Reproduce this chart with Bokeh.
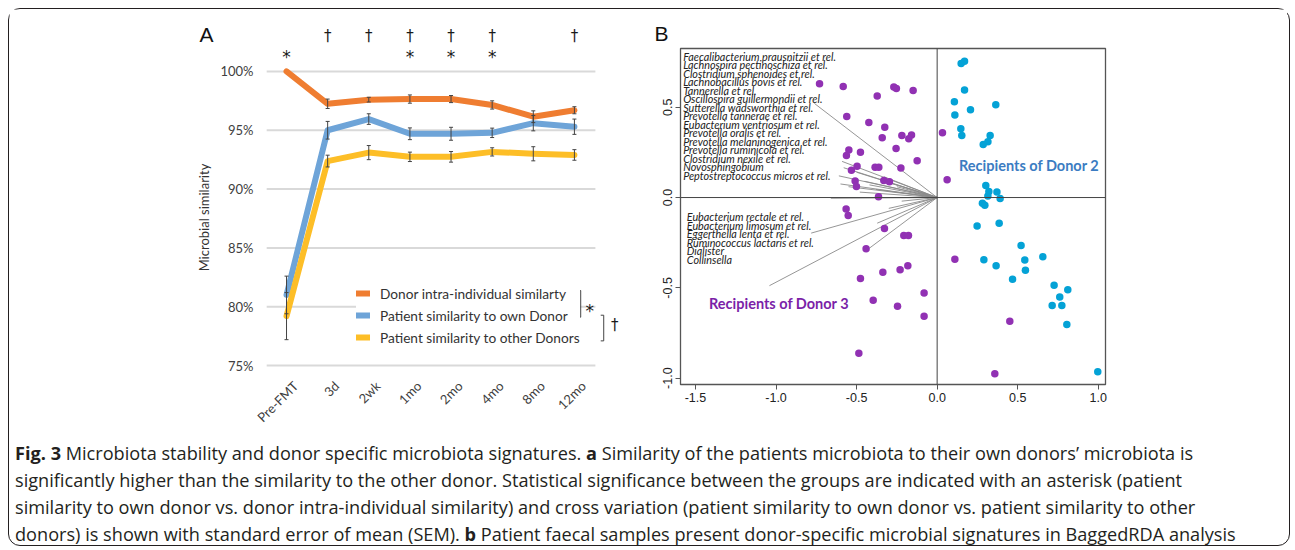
import math
from bokeh.plotting import figure
from bokeh.models import (ColumnDataSource, Range1d, FixedTicker, Label, Legend, LinearAxis,
                          LegendItem, Whisker, TeeHead, Span, Div, NumeralTickFormatter)
from bokeh.layouts import column, row
from bokeh.core.properties import value
from bokeh.embed import file_html
from bokeh.resources import INLINE

# ---------------- Panel A data ----------------
timepoints = ["Pre-FMT", "3d", "2wk", "1mo", "2mo", "4mo", "8mo", "12mo"]
donor_intra = [100.0, 97.25, 97.6, 97.65, 97.65, 97.15, 96.15, 96.7]
donor_intra_sem = [0.0, 0.4, 0.2, 0.35, 0.3, 0.35, 0.5, 0.3]
own_donor = [81.0, 95.0, 95.95, 94.7, 94.7, 94.78, 95.6, 95.3]
own_donor_sem = [1.6, 0.75, 0.45, 0.5, 0.55, 0.4, 0.65, 0.65]
other_donor = [79.2, 92.38, 93.1, 92.74, 92.74, 93.16, 93.0, 92.9]
other_donor_sem = [2.0, 0.5, 0.6, 0.4, 0.45, 0.35, 0.6, 0.45]
star_marks = ["*", "", "", "*", "*", "*", "", ""]
dagger_marks = ["", "†", "†", "†", "†", "†", "", "†"]
y_ticks = [75, 80, 85, 90, 95, 100]
series_names = ["Donor intra-individual similarty", "Patient similarity to own Donor",
                "Patient similarity to other Donors"]

# ---------------- Panel B data ----------------
donor3_x = [-0.73, -0.583, -0.269, -0.253, -0.149, -0.372, -0.561, -0.424, -0.325, -0.341,
            -0.219, -0.159, -0.176, -0.255, -0.548, -0.563, -0.476, -0.124, -0.497, -0.532,
            -0.385, -0.362, -0.225, -0.509, -0.501, -0.331, -0.296, 0.033, 0.062, -0.364,
            -0.565, -0.552, -0.327, -0.207, -0.178, -0.441, -0.476, -0.337, -0.23, -0.182,
            -0.081, -0.397, -0.246, -0.081, -0.486, 0.11, 0.451, 0.358]
donor3_y = [0.63, 0.615, 0.612, 0.604, 0.593, 0.562, 0.449, 0.416, 0.389, 0.331,
            0.343, 0.346, 0.326, 0.271, 0.263, 0.232, 0.25, 0.203, 0.173, 0.151,
            0.167, 0.167, 0.164, 0.092, 0.061, 0.094, 0.088, 0.359, 0.098, 0.004,
            -0.063, -0.1, -0.171, -0.21, -0.21, -0.284, -0.448, -0.414, -0.4, -0.377,
            -0.529, -0.569, -0.602, -0.657, -0.862, -0.341, -0.685, -0.976]
donor2_x = [0.149, 0.17, 0.17, 0.107, 0.207, 0.364, 0.11, 0.147, 0.153, 0.329, 0.315, 0.286,
            0.302, 0.321, 0.315, 0.371, 0.391, 0.281, 0.296, 0.248, 0.385, 0.521, 0.29,
            0.366, 0.544, 0.656, 0.548, 0.468, 0.726, 0.811, 0.761, 0.714, 0.774, 0.805, 0.997]
donor2_y = [0.742, 0.755, 0.595, 0.53, 0.486, 0.514, 0.457, 0.381, 0.343, 0.343, 0.309, 0.293,
            0.066, 0.033, 0.009, 0.031, -0.006, -0.031, -0.043, -0.157, -0.142, -0.265, -0.344,
            -0.378, -0.346, -0.328, -0.403, -0.453, -0.486, -0.51, -0.551, -0.597, -0.597,
            -0.703, -0.965]
taxa_upper = ["Faecalibacterium prausnitzii et rel.", "Lachnospira pectinoschiza et rel.",
              "Clostridium sphenoides et rel.", "Lachnobacillus bovis et rel.", "Tannerella et rel.",
              "Oscillospira guillermondii et rel.", "Sutterella wadsworthia et rel.",
              "Prevotella tannerae et rel.", "Eubacterium ventriosum et rel.", "Prevotella oralis et rel.",
              "Prevotella melaninogenica et rel.", "Prevotella ruminicola et rel.",
              "Clostridium nexile et rel.", "Novosphingobium", "Peptostreptococcus micros et rel."]
taxa_lower = ["Eubacterium rectale et rel.", "Eubacterium limosum et rel.", "Eggerthella lenta et rel.",
              "Ruminococcus lactaris et rel.", "Dialister", "Collinsella"]
vec_upper_x = [-0.762, -0.59, -0.58, -0.50, -0.61, -0.60, -0.55, -0.45, -0.42, -0.33, -0.31,
               -0.38, -0.25, -0.66, -0.48]
vec_upper_y = [0.521, 0.20, 0.165, 0.14, 0.12, 0.075, 0.06, 0.09, 0.07, 0.115, 0.085,
               0.045, 0.06, -0.004, 0.03]
vec_lower_x = [-0.782, -1.041, -0.372, -0.42, -0.22, -0.30]
vec_lower_y = [-0.197, -0.488, -0.142, -0.28, -0.02, -0.06]
b_xticks = [-1.5, -1.0, -0.5, 0.0, 0.5, 1.0]
b_yticks = [-1.0, -0.5, 0.0, 0.5]

caption_lines = [
    "<b>Fig. 3</b> Microbiota stability and donor specific microbiota signatures. <b>a</b> Similarity of the patients microbiota to their own donors’ microbiota is",
    "significantly higher than the similarity to the other donor. Statistical significance between the groups are indicated with an asterisk (patient",
    "similarity to own donor vs. donor intra-individual similarity) and cross variation (patient similarity to own donor vs. patient similarity to other",
    "donors) is shown with standard error of mean (SEM). <b>b</b> Patient faecal samples present donor-specific microbial signatures in BaggedRDA analysis",
]

FONT = "Lato"
SYM = "DejaVu Sans"
INK = "#1a1a1a"
C_OR, C_BL, C_YE = "#ef7d31", "#6ea4d8", "#fdbe27"

# ================= Panel A =================
n = len(timepoints)
xs = list(range(n))
pa = figure(width=627, height=424, x_range=Range1d(-0.487, 8.145), y_range=Range1d(74.664, 100.503),
            output_backend="svg", toolbar_location=None, title=None,
            min_border_left=257, min_border_right=15, min_border_top=56, min_border_bottom=52)
pa.frame_align = False
pa.outline_line_color = None
pa.grid.visible = False

# gridlines
pa.segment(x0=[-0.49] * len(y_ticks), x1=[n - 0.49] * len(y_ticks), y0=y_ticks, y1=y_ticks,
           line_color="#d9d9d9", line_width=2)

rends = []
for vals, col in [(donor_intra, C_OR), (own_donor, C_BL), (other_donor, C_YE)]:
    r = pa.line(xs, vals, line_color=col, line_width=6, line_cap="round", line_join="round")
    rends.append(r)

for vals, sems in [(donor_intra, donor_intra_sem), (own_donor, own_donor_sem), (other_donor, other_donor_sem)]:
    idx = [i for i in xs if sems[i] > 0]
    src = ColumnDataSource(dict(x=idx, up=[vals[i] + sems[i] for i in idx], lo=[vals[i] - sems[i] for i in idx]))
    w = Whisker(source=src, base="x", upper="up", lower="lo", line_color="#444444", line_width=1,
                upper_head=TeeHead(size=4, line_color="#444444", line_width=1),
                lower_head=TeeHead(size=4, line_color="#444444", line_width=1), level="overlay")
    pa.add_layout(w)

XOFF = 0.22  # rotated labels sit slightly right of their point
pa.xaxis.ticker = FixedTicker(ticks=[i + XOFF for i in xs])
pa.xaxis.major_label_overrides = {i + XOFF: t for i, t in enumerate(timepoints)}
pa.xaxis.major_label_orientation = math.pi / 4
pa.xaxis.axis_line_color = None
pa.xaxis.major_tick_line_color = None
pa.xaxis.minor_tick_line_color = None
pa.xaxis.major_label_standoff = 8
pa.yaxis.ticker = FixedTicker(ticks=y_ticks)
pa.yaxis.major_label_overrides = {t: f"{t}%" for t in y_ticks}
pa.yaxis.axis_line_color = None
pa.yaxis.major_tick_line_color = None
pa.yaxis.minor_tick_line_color = None
pa.yaxis.major_label_standoff = 7
pa.yaxis.axis_label = "Microbial similarity"
pa.yaxis.axis_label_standoff = 5
pa.yaxis.axis_label_text_font_style = "normal"
pa.yaxis.axis_label_text_font_size = "13px"
pa.yaxis.axis_label_text_font = FONT
pa.yaxis.axis_label_text_color = "#333333"
for ax in (pa.xaxis, pa.yaxis):
    ax.major_label_text_font = FONT
    ax.major_label_text_font_size = "13px"
    ax.major_label_text_color = "#404040"

# significance marks as label-only axes above the plot
for marks, stand, size in ((star_marks, -7, "17px"), (dagger_marks, -7, "15px")):
    pos = [i for i in xs if marks[i]]
    ax = LinearAxis(ticker=FixedTicker(ticks=pos),
                    major_label_overrides={i: marks[i] for i in pos},
                    axis_line_color=None, major_tick_line_color=None, minor_tick_line_color=None,
                    major_label_standoff=stand, major_label_text_font=SYM,
                    major_label_text_font_size=size, major_label_text_color=INK)
    pa.add_layout(ax, "above")

pa.add_layout(Label(x=20, y=335, x_units="screen", y_units="screen", text="A",
                    text_font="Liberation Sans", text_font_size="21px", text_baseline="middle",
                    text_color="#111111"), "left")

legend = Legend(items=[LegendItem(label=nm, renderers=[r]) for nm, r in zip(series_names, rends)],
                location=(90, 22), background_fill_color="white", background_fill_alpha=1.0,
                border_line_color=None, label_text_font=FONT, label_text_font_size="13.7px",
                label_text_color="#333333", glyph_width=14, glyph_height=20, label_height=20,
                spacing=2, padding=15, margin=0, label_standoff=10)
pa.add_layout(legend)

# brackets beside legend
def px2x(px):
    return (px - 285) / 41.1

def py2y(py):
    return 100 - (py - 70) / 11.92

br = ColumnDataSource(dict(
    x0=[px2x(579), px2x(576), px2x(576), px2x(602), px2x(599), px2x(599)],
    x1=[px2x(579), px2x(579), px2x(579), px2x(602), px2x(602), px2x(602)],
    y0=[py2y(292), py2y(292), py2y(319), py2y(317), py2y(317), py2y(343)],
    y1=[py2y(319), py2y(292), py2y(319), py2y(343), py2y(317), py2y(343)]))
sr = pa.segment(x0="x0", x1="x1", y0="y0", y1="y1", source=br, line_color="#444444", line_width=1)
sr.level = "overlay"
pa.add_layout(Label(x=px2x(588), y=py2y(313), text="*", text_font=SYM, text_font_size="17px",
                    text_align="center", text_baseline="middle", text_color=INK))
pa.add_layout(Label(x=px2x(613), y=py2y(327), text="†", text_font=SYM, text_font_size="15px",
                    text_align="center", text_baseline="middle", text_color=INK))

# ================= Panel B =================
pb = figure(width=651, height=424, x_range=Range1d(-1.593, 1.045), y_range=Range1d(-1.035, 0.825),
            output_backend="svg", toolbar_location=None, title="B",
            min_border_left=44, min_border_right=182, min_border_top=39, min_border_bottom=49)
pb.frame_align = False
pb.title.text_font = "Liberation Sans"
pb.title.text_font_size = "21px"
pb.title.text_font_style = "normal"
pb.title.text_color = "#111111"
pb.title.align = "left"
pb.title.offset = -26
pb.title.standoff = 7
pb.grid.visible = False
pb.outline_line_color = "#555555"
pb.outline_line_width = 1.3
pb.xaxis.ticker = FixedTicker(ticks=b_xticks)
pb.yaxis.ticker = FixedTicker(ticks=b_yticks)
for ax in (pb.xaxis, pb.yaxis):
    ax.formatter = NumeralTickFormatter(format="0.0")
    ax.axis_line_color = "#555555"
    ax.major_tick_line_color = "#555555"
    ax.major_tick_in = 0
    ax.major_tick_out = 5
    ax.minor_tick_line_color = None
    ax.major_label_text_font = "Liberation Sans"
    ax.major_label_text_font_size = "12.5px"
    ax.major_label_text_color = "#222222"
    ax.major_label_standoff = 3
pb.yaxis.major_label_orientation = "vertical"

pb.add_layout(Span(location=0, dimension="width", line_color="#444444", line_width=1))
pb.add_layout(Span(location=0, dimension="height", line_color="#444444", line_width=1))

vx = vec_upper_x + vec_lower_x
vy = vec_upper_y + vec_lower_y
pb.segment(x0=[0] * len(vx), y0=[0] * len(vy), x1=vx, y1=vy, line_color="#8a8a8a", line_width=0.9)

pb.scatter(donor3_x, donor3_y, size=7.5, fill_color="#9131b3", line_color=None)
pb.scatter(donor2_x, donor2_y, size=7.5, fill_color="#04a2d6", line_color=None)

ux0 = (682 - 936) / 161.1
uy0 = (196 - 54.3) / 181
dy = 8.53 / 181
pb.text(x=[ux0] * len(taxa_upper), y=[uy0 - i * dy for i in range(len(taxa_upper))], text=taxa_upper,
        text_font=value(FONT), text_font_style="italic", text_font_size="10.8px", text_baseline="middle",
        text_color="#222222")
lx0 = (685.7 - 936) / 161.1
ly0 = (196 - 215) / 181
pb.text(x=[lx0] * len(taxa_lower), y=[ly0 - i * dy for i in range(len(taxa_lower))], text=taxa_lower,
        text_font=value(FONT), text_font_style="italic", text_font_size="10.8px", text_baseline="middle",
        text_color="#222222")

pb.text(x=[0.571], y=[0.177], text=["Recipients of Donor 2"], text_font=value(FONT),
        text_font_style="bold", text_font_size="14.5px", text_align="center", text_baseline="middle",
        text_color="#3b7cc2")
pb.text(x=[-0.981], y=[-0.586], text=["Recipients of Donor 3"], text_font=value(FONT),
        text_font_style="bold", text_font_size="14.5px", text_align="center", text_baseline="middle",
        text_color="#7b1fa8")

# ================= Caption =================
cap = Div(text="<br>".join(caption_lines), width=1270, height=102,
          styles={"font-family": "Open Sans", "font-size": "18.15px", "line-height": "27px",
                  "color": "#231f20", "padding-left": "1px", "padding-top": "2px",
                  "white-space": "nowrap"})

layout = column(row(pa, pb), cap,
                styles={"border": "1.5px solid #231f20", "border-radius": "12px", "margin": "8px"})

open("out.html", "w").write(file_html(layout, INLINE))
